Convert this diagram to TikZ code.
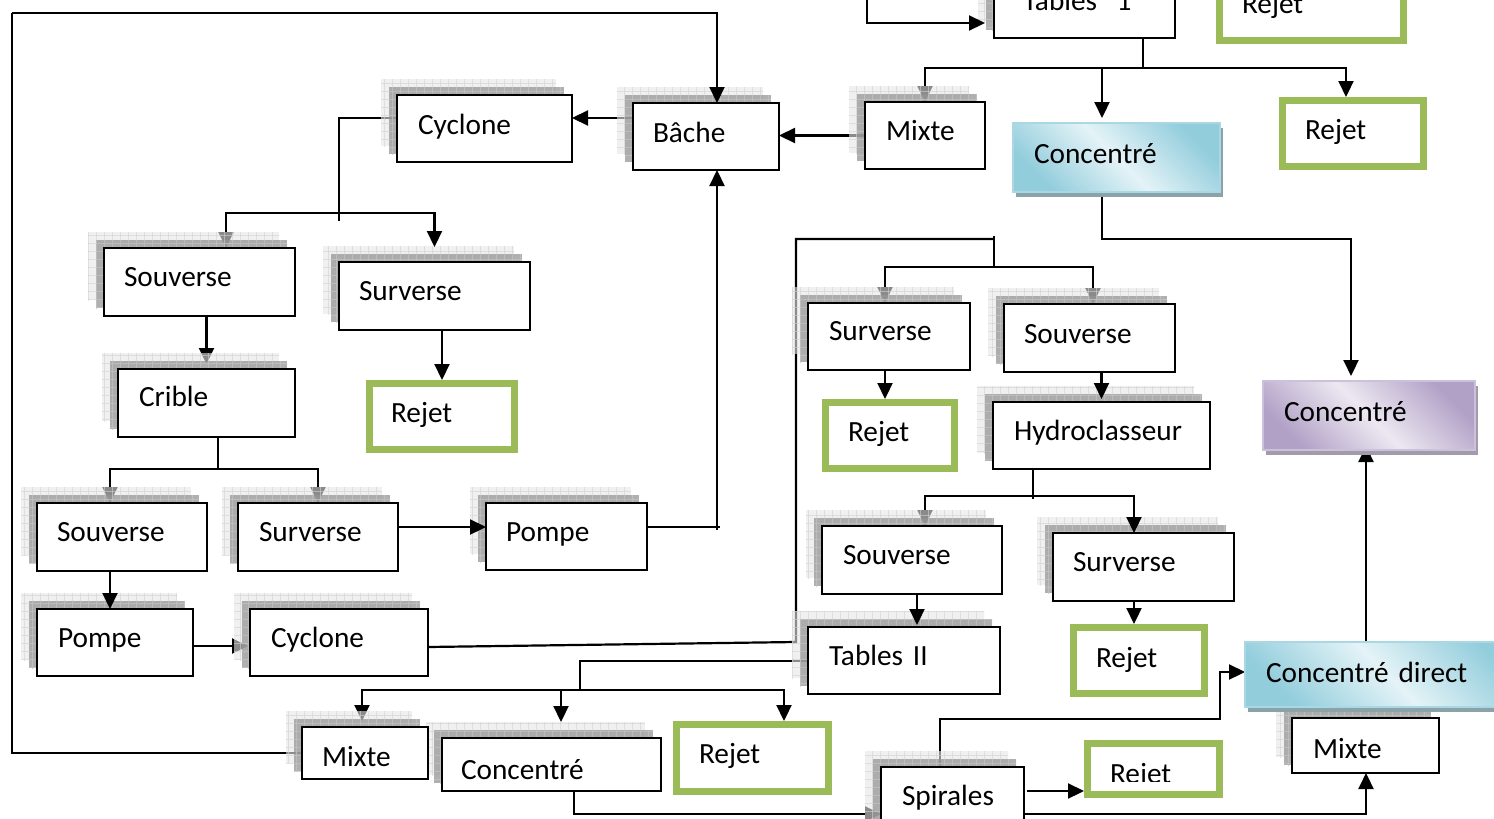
\documentclass[tikz,border=0pt]{standalone}
\usepackage{fontspec}
\setmainfont{Carlito}
\usetikzlibrary{arrows.meta,patterns.meta}

\definecolor{rejgreen}{HTML}{9BBB59}
\definecolor{aquadark}{HTML}{92CDDC}
\definecolor{aqualight}{HTML}{E4F3F7}
\definecolor{aquaborder}{HTML}{A9D8E4}
\definecolor{lilacdark}{HTML}{B2A1C7}
\definecolor{lilaclight}{HTML}{ECE8F1}
\definecolor{lilacborder}{HTML}{CCC1DA}
\definecolor{shadelight}{HTML}{E6E6E6}
\definecolor{shadedark}{HTML}{969696}
\definecolor{gridlight}{HTML}{D2D2D2}
\definecolor{griddark}{HTML}{C4C4C4}
\definecolor{aquacast}{HTML}{8AA3A9}
\definecolor{lilaccast}{HTML}{A29BAA}

\pgfdeclarelayer{canvasbg}
\pgfdeclarelayer{links}
\pgfdeclarelayer{shadows}
\pgfdeclarelayer{toplinks}
\pgfsetlayers{canvasbg,links,shadows,toplinks,main}

\tikzset{
  every node/.style={font=\fontsize{29.3}{34}\selectfont, inner ysep=0pt, outer sep=0pt, align=left},
  plain/.style={draw=black, line width=1.6pt, fill=white},
  reject/.style={draw=rejgreen, line width=7pt, fill=white},
  aquabox/.style={draw=aquaborder, line width=2pt, top color=aquadark, bottom color=aquadark,
                  middle color=aqualight, shading angle=-45},
  lilacbox/.style={draw=lilacborder, line width=2pt, top color=lilacdark, bottom color=lilacdark,
                   middle color=lilaclight, shading angle=-45},
  link/.style={draw=black, line width=2.2pt},
  arr/.style={link, -{Triangle[length=16pt,width=15pt]}},
  gridded/.style={
    postaction={pattern={Lines[distance=8pt,angle=0,line width=0.6pt]}, pattern color=#1},
    postaction={pattern={Lines[distance=8pt,angle=90,line width=0.6pt]}, pattern color=#1}},
  shL/.style={fill=shadelight, opacity=0.6, gridded=gridlight},
  shD/.style={fill=shadedark, opacity=0.75, gridded=griddark},
}

% box: style, text padding, baseline offset, x1, y1, x2, y2, name, text
\newcommand\bx[9]{%
  \pgfmathsetmacro\bxw{#6-#4}%
  \pgfmathsetmacro\bxh{#7-#5}%
  \pgfmathsetmacro\bxth{2*#3-\bxh}%
  \pgfmathsetmacro\bxtw{\bxw-2*#2}%
  \node[#1, anchor=north west, inner xsep=#2pt, minimum width=\bxw pt, minimum height=\bxh pt,
        text width=\bxtw pt, text height=\bxth pt, text depth=0pt] (#8) at (#4,#5) {\mbox{#9}};}

% stacked grey drop shadow up and to the left of a box
\newcommand\dropshade[1]{%
  \fill[shL] ([shift={(-16pt,16pt)}]#1.north west) rectangle ([shift={(-16pt,16pt)}]#1.south east);
  \fill[shD] ([shift={(-8pt,8pt)}]#1.north west) rectangle ([shift={(-8pt,8pt)}]#1.south east);}
% thin cast shadow below and to the right of a tinted box
\newcommand\castshade[2]{%
  \fill[#2] ([shift={(3pt,-5pt)}]#1.north west) rectangle ([shift={(3pt,-5pt)}]#1.south east);}

\begin{document}
\begin{tikzpicture}[x=1pt, y=-1pt]
\useasboundingbox (0,0) rectangle (1494,819);
\begin{pgfonlayer}{canvasbg}
  \fill[white] (0,0) rectangle (1494,819);
\end{pgfonlayer}

% ---------- boxes ----------
\bx{plain}{29}{39}{994}{-29}{1175}{38}{tab1}{Tables~~1}
\bx{plain}{21}{38}{865}{102}{985}{169}{mixT}{Mixte}
\bx{plain}{20}{39}{633}{103}{779}{170}{bache}{Bâche}
\bx{plain}{21}{39}{397}{95}{572}{162}{cycT}{Cyclone}
\bx{plain}{20}{38}{104}{248}{295}{316}{souv1}{Souverse}
\bx{plain}{20}{38}{339}{262}{530}{330}{surv1}{Surverse}
\bx{plain}{21}{37}{118}{369}{295}{437}{crible}{Crible}
\bx{plain}{20}{38}{37}{503}{207}{571}{souv2}{Souverse}
\bx{plain}{21}{38}{238}{503}{398}{571}{surv2}{Surverse}
\bx{plain}{20}{38}{486}{503}{647}{570}{pompe1}{Pompe}
\bx{plain}{21}{38}{37}{609}{193}{676}{pompe2}{Pompe}
\bx{plain}{21}{38}{250}{609}{428}{676}{cycL}{Cyclone}
\bx{plain}{21}{37}{808}{303}{970}{370}{survR}{Surverse}
\bx{plain}{20}{39}{1004}{304}{1175}{372}{souvR}{Souverse}
\bx{plain}{21}{38}{993}{402}{1210}{469}{hydro}{Hydroclasseur}
\bx{plain}{21}{38}{822}{526}{1002}{594}{souvR2}{Souverse}
\bx{plain}{20}{38}{1053}{533}{1234}{601}{survR2}{Surverse}
\bx{plain}{21}{38}{808}{627}{1000}{694}{tab2}{Tables II}
\bx{plain}{20}{39}{302}{727}{428}{779}{mixB}{Mixte}
\bx{plain}{19}{41}{442}{738}{661}{791}{concB}{Concentré}
\bx{plain}{21}{38}{881}{767}{1024}{840}{spir}{Spirales}
\bx{plain}{21}{40}{1292}{718}{1439}{773}{mixBR}{Mixte}

\bx{reject}{22.5}{39}{1219.5}{-25.5}{1403.5}{40.5}{rejT}{Rejet}
\bx{reject}{22.5}{39}{1282.5}{100.5}{1423.5}{166.5}{rejTR}{Rejet}
\bx{reject}{21.5}{39}{369.5}{383.5}{514.5}{449.5}{rejL1}{Rejet}
\bx{reject}{22.5}{39}{825.5}{402.5}{954.5}{468.5}{rejR1}{Rejet}
\bx{reject}{22.5}{40}{1073.5}{627.5}{1204.5}{693.5}{rejR2}{Rejet}
\bx{reject}{22.5}{39}{676.5}{724.5}{828.5}{791.5}{rejB}{Rejet}
\bx{reject}{22.5}{40}{1087.5}{743.5}{1219.5}{794.5}{rejB2}{Rejet}
% lower part of the last label is hidden by its frame
\fill[white] (1091.5,782) rectangle (1215.5,790.5);

\bx{aquabox}{21}{40}{1013}{123}{1220}{192}{concT}{Concentré}
\bx{lilacbox}{21}{40}{1263}{381}{1475}{450}{concP}{Concentré}
\bx{aquabox}{21}{40}{1245}{642}{1530}{707}{concD}{Concentré direct}

% ---------- shadows ----------
\begin{pgfonlayer}{shadows}
  \foreach \b in {tab1,mixT,bache,cycT,souv1,surv1,crible,souv2,surv2,pompe1,pompe2,cycL,
                  survR,souvR,hydro,souvR2,survR2,tab2,mixB,concB,spir,mixBR}{\dropshade{\b}}
  \castshade{concT}{aquacast}
  \castshade{concP}{lilaccast}
  \castshade{concD}{aquacast}
\end{pgfonlayer}

% ---------- connectors lying under the shadows ----------
\begin{pgfonlayer}{links}
  % Tables 1 outputs
  \coordinate (s1) at (1143,68);
  \coordinate (s1l) at (925,68);
  \coordinate (s1c) at (1102,68);
  \coordinate (s1r) at (1346,68);
  \draw[link] (s1 |- tab1.south) -- (s1);
  \draw[arr] (s1) -- (s1l) -- (s1l |- mixT.north);
  \draw[arr, shorten >=5pt] (s1c) -- (s1c |- concT.north);
  \draw[arr, shorten >=3.5pt] (s1) -- (s1r) -- (s1r |- rejTR.north);

  % Mixte -> Bâche -> Cyclone
  \draw[arr] (mixT.west) -- (mixT.west -| bache.east);
  \coordinate (yb) at (0,118);
  \draw[arr] (bache.west |- yb) -- (cycT.east |- yb);

  % Cyclone outputs
  \coordinate (c1) at (339,118);
  \coordinate (c1b) at (339,213);
  \coordinate (c1t) at (339,221);
  \coordinate (c1l) at (226,213);
  \draw[link] (cycT.west |- c1) -- (c1) -- (c1t);
  \draw[arr] (c1b) -- (c1l) -- (c1l |- souv1.north);

  \draw[arr, shorten >=5pt] (souv1.south -| crible.north) -- (crible.north);
  \draw[arr, shorten >=3.5pt] (surv1.south -| rejL1.north) -- (rejL1.north);

  % Crible outputs
  \coordinate (cr) at (218,469);
  \coordinate (crl) at (110,469);
  \draw[link] (cr |- crible.south) -- (cr);
  \draw[arr] (cr) -- (crl) -- (crl |- souv2.north);
  \draw[arr] (cr) -| (surv2.north);

  \coordinate (yc) at (0,646);
  \draw[arr, shorten >=2pt] (pompe2.east |- yc) -- (cycL.west |- yc);

  % lower Cyclone to the right-hand branch
  \coordinate (v1) at (796,642);
  \coordinate (v2) at (796,239);
  \coordinate (v3) at (994,239);
  \coordinate (v4) at (994,267);
  \coordinate (v4l) at (885,267);
  \coordinate (v4r) at (1093,267);
  \draw[link] ([yshift=-4.5pt]cycL.east) -- (v1) -- (v2) -- (v3);
  \draw[link] ([yshift=3pt]v3) -- (v4);
  \draw[arr] (v4) -- (v4l) -- (v4l |- survR.north);
  \draw[arr] (v4) -- (v4r) -- (v4r |- souvR.north);

  % upper Concentré to the final Concentré
  \coordinate (w1) at (1102,239);
  \coordinate (w2) at (1351,239);
  \draw[arr, shorten >=5pt] (w1 |- concT.south) -- (w1) -- (w2) -- (w2 |- concP.north);

  \draw[arr, shorten >=3.5pt] (v4l |- survR.south) -- (v4l |- rejR1.north);

  % Hydroclasseur outputs
  \coordinate (h1) at (1033,496);
  \coordinate (h1l) at (925,496);
  \coordinate (h1r) at (1134,496);
  \draw[link] (h1 |- hydro.south) -- ([yshift=-3pt]h1);
  \draw[arr] (h1) -- (h1l) -- (h1l |- souvR2.north);
  \draw[arr, shorten >=3.5pt] (h1r |- survR2.south) -- (h1r |- rejR2.north);

  % Tables II outputs
  \coordinate (m1) at (580,661);
  \coordinate (m2) at (580,690);
  \coordinate (m2l) at (362,690);
  \coordinate (m2c) at (561,690);
  \coordinate (m2r) at (784,690);
  \draw[link] (tab2.west |- m1) -- (m1) -- (m2);
  \draw[arr, shorten >=6pt] (m2) -- (m2l) -- (m2l |- mixB.north);
  \draw[arr, shorten >=3.5pt] (m2) -- (m2r) -- (m2r |- rejB.north);

  % Mixte loop back to the Bâche
  \coordinate (lpA) at (12,13);
  \draw[link] (mixB.west) -| (lpA);

  % Concentré -> Spirales and Spirales outputs
  \coordinate (n1) at (574,814);
  \draw[arr] (n1 |- concB.south) -- (n1) -- (n1 -| spir.west);
  \coordinate (q1) at (940,719);
  \coordinate (q2) at (1220,719);
  \coordinate (q3) at (1220,672);
  \draw[arr] (q1 |- spir.north) -- (q1) -- (q2) -- (q3) -- (q3 -| concD.west);
  \coordinate (r1) at (1027,791);
  \draw[arr, shorten >=3.5pt] (r1) -- (r1 -| rejB2.west);
  \coordinate (r2) at (1366,814);
  \draw[arr] (spir.east |- r2) -- (r2) -- (r2 |- mixBR.south);
  \draw[arr, shorten >=-4pt] (r2 |- concD.north) -- (r2 |- concP.south);
\end{pgfonlayer}

% ---------- connectors drawn over the shadows ----------
\begin{pgfonlayer}{toplinks}
  \coordinate (lpB) at (717,13);
  \draw[arr] (lpA) -- (lpB) -- (lpB |- bache.north);

  % feed into Tables 1
  \coordinate (tin) at (867,-5);
  \coordinate (tinB) at (867,23);
  \draw[arr, shorten >=9pt] (tin) -- (tinB) -- (tinB -| tab1.west);

  \draw[arr, shorten >=15pt] (c1b) -| (surv1.north);

  \coordinate (yp) at (717,527);
  \draw[arr] (surv2.east |- yp) -- (pompe1.west |- yp);
  \draw[link] (pompe1.east |- yp) -- ([xshift=3pt]yp);
  \draw[arr] ([yshift=-3pt]yp) -- (yp |- bache.south);
  \draw[arr] (crl |- souv2.south) -- (crl |- pompe2.north);

  \draw[arr, shorten >=3pt] (hydro.north |- souvR.south) -- (hydro.north);
  \draw[arr] (h1) -- (h1r) -- (h1r |- survR2.north);
  \coordinate (k1) at (917,610);
  \draw[arr, shorten >=2pt] (k1 |- souvR2.south) -- (k1 |- tab2.north);
  \draw[arr, shorten >=16pt] (m2c) -- (m2c |- concB.north);
\end{pgfonlayer}
\end{tikzpicture}
\end{document}
